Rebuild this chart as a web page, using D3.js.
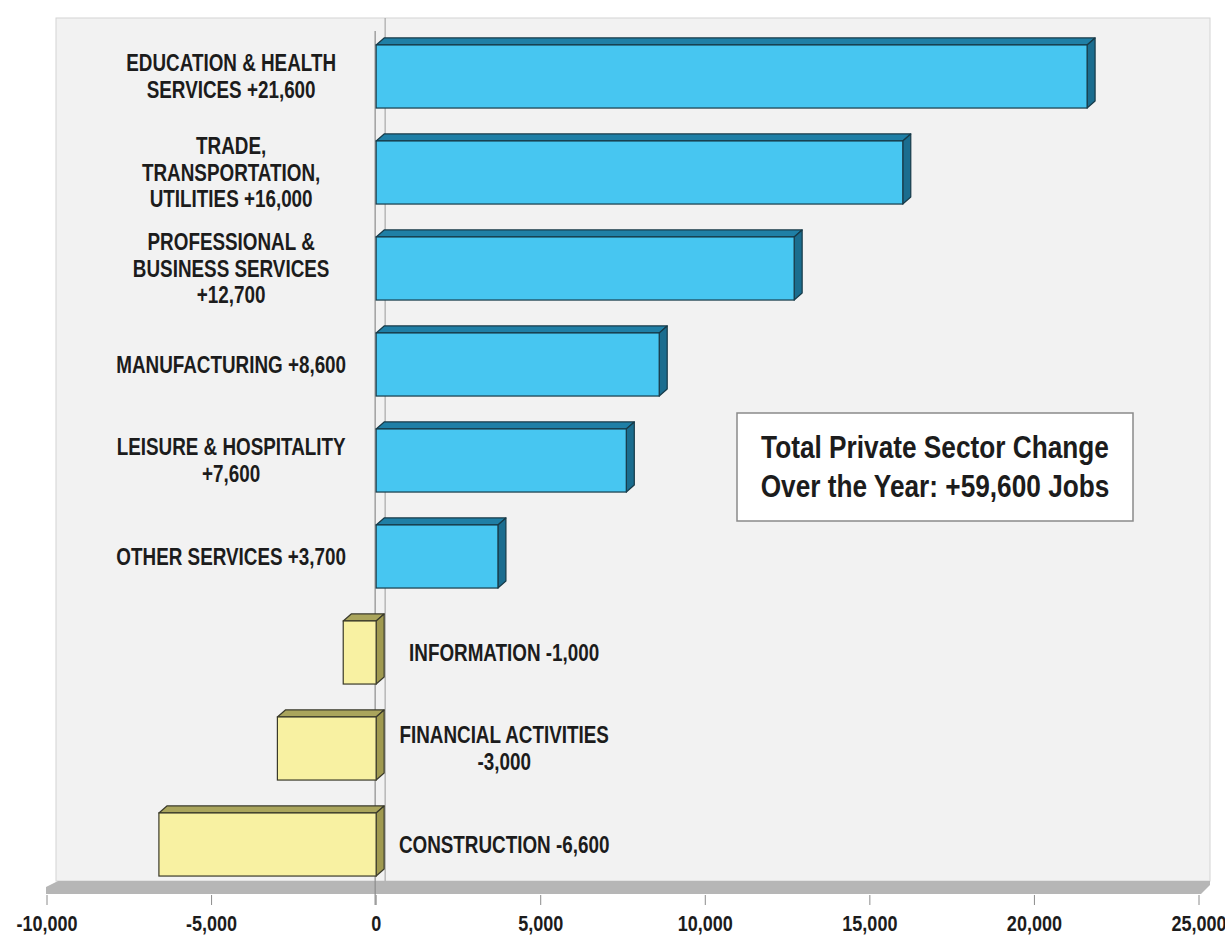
<!DOCTYPE html>
<html>
<head>
<meta charset="utf-8">
<script src="https://cdn.jsdelivr.net/npm/d3@7"></script>
<style>
  body { margin: 0; background: #fff; }
  text { font-family: "Liberation Sans", Arial, sans-serif; font-weight: bold; fill: #1c1c1c; }
</style>
</head>
<body>
<script>
// sectors, top to bottom
var categories = ["Education & Health Services", "Trade, Transportation, Utilities",
  "Professional & Business Services", "Manufacturing", "Leisure & Hospitality",
  "Other Services", "Information", "Financial Activities", "Construction"];
var values = [21600, 16000, 12700, 8600, 7600, 3700, -1000, -3000, -6600];
var labelLines = [
  ["EDUCATION & HEALTH", "SERVICES  +21,600"],
  ["TRADE,", "TRANSPORTATION,", "UTILITIES +16,000"],
  ["PROFESSIONAL &", "BUSINESS SERVICES", "+12,700"],
  ["MANUFACTURING +8,600"],
  ["LEISURE & HOSPITALITY", "+7,600"],
  ["OTHER SERVICES +3,700"],
  ["INFORMATION -1,000"],
  ["FINANCIAL ACTIVITIES", "-3,000"],
  ["CONSTRUCTION -6,600"]
];
var tickValues = [-10000, -5000, 0, 5000, 10000, 15000, 20000, 25000];
var noteLines = ["Total Private Sector Change", "Over the Year: +59,600 Jobs"];

var width = 1225, height = 946;
var depthX = 8, depthY = 7;
var narrow = 0.82; // no narrow font installed, squeeze Liberation Sans instead

var svg = d3.select("body").append("svg")
    .attr("width", width)
    .attr("height", height);

var x = d3.scaleLinear().domain([-10000, 25000]).range([47, 1199]);
var y = d3.scaleBand().domain(categories).range([25, 889])
    .paddingInner(0.27).paddingOuter(0.135);

var wall = {left: 56, right: 1210, top: 18, bottom: 881};

// back wall
svg.append("rect")
    .attr("x", wall.left).attr("y", wall.top)
    .attr("width", wall.right - wall.left).attr("height", wall.bottom - wall.top)
    .attr("fill", "#f2f2f2")
    .attr("stroke", "#d4d4d4");

// floor slab
svg.append("path")
    .attr("d", "M" + (x(-10000) - 1) + ",887 L" + (wall.left + 2) + "," + wall.bottom +
      " L" + wall.right + "," + wall.bottom + " L" + wall.right + ",885 L" + (x(25000) + 2) +
      ",894 L" + (x(-10000) - 1) + ",894 Z")
    .attr("fill", "#b6b6b6");

// zero lines (back wall and front)
svg.append("line")
    .attr("x1", x(0) + 9).attr("x2", x(0) + 9)
    .attr("y1", wall.top).attr("y2", wall.bottom)
    .attr("stroke", "#a8a8a8").attr("stroke-width", 1.2);
svg.append("line")
    .attr("x1", x(0) - 1).attr("x2", x(0) - 1)
    .attr("y1", 31).attr("y2", 905)
    .attr("stroke", "#8c8c8c").attr("stroke-width", 1.2);

// x axis ticks and labels
var fmt = d3.format(",");
var axis = svg.append("g");
axis.selectAll("line").data(tickValues).enter().append("line")
    .attr("x1", function(d) { return x(d); })
    .attr("x2", function(d) { return x(d); })
    .attr("y1", 895).attr("y2", 905)
    .attr("stroke", "#8c8c8c");
axis.selectAll("text").data(tickValues).enter().append("text")
    .attr("transform", function(d) { return "translate(" + x(d) + ",931) scale(" + narrow + ",1)"; })
    .attr("text-anchor", "middle")
    .attr("font-size", 22)
    .text(function(d) { return fmt(d).replace("\u2212", "-"); });

// 3d bars
var bars = svg.append("g").selectAll("g")
    .data(categories.map(function(c, i) { return {cat: c, value: values[i]}; }))
    .enter().append("g");

function barColors(d) {
  return d.value >= 0
    ? {front: "#47c6f1", top: "#1f7fa6", side: "#1b6d8f", edge: "#173a48"}
    : {front: "#f8f1a2", top: "#aaa55c", side: "#a09a50", edge: "#3a3a2a"};
}

bars.each(function(d) {
  var g = d3.select(this), c = barColors(d);
  var x0 = x(Math.min(0, d.value)), x1 = x(Math.max(0, d.value));
  var yt = y(d.cat), yb = yt + y.bandwidth();
  // top face
  g.append("path")
      .attr("d", "M" + x0 + "," + (yt + depthY) + " L" + (x0 + depthX) + "," + yt +
        " L" + (x1 + depthX) + "," + yt + " L" + x1 + "," + (yt + depthY) + " Z")
      .attr("fill", c.top).attr("stroke", c.edge).attr("stroke-width", 1.2)
      .attr("stroke-linejoin", "round");
  // side face
  g.append("path")
      .attr("d", "M" + x1 + "," + (yt + depthY) + " L" + (x1 + depthX) + "," + yt +
        " L" + (x1 + depthX) + "," + (yb - depthY) + " L" + x1 + "," + yb + " Z")
      .attr("fill", c.side).attr("stroke", c.edge).attr("stroke-width", 1.2)
      .attr("stroke-linejoin", "round");
  // front face
  g.append("rect")
      .attr("x", x0).attr("y", yt + depthY)
      .attr("width", x1 - x0).attr("height", y.bandwidth() - depthY)
      .attr("fill", c.front).attr("stroke", c.edge).attr("stroke-width", 1.2);
});

// category labels
var lineH = 27;
svg.append("g").selectAll("text")
    .data(categories.map(function(c, i) { return {cat: c, value: values[i], lines: labelLines[i]}; }))
    .enter().append("text")
    .attr("text-anchor", "middle")
    .attr("font-size", 23)
    .attr("transform", function(d) {
      var cx = d.value >= 0 ? x(0) - 145 : x(0) + 128;
      var cy = y(d.cat) + (y.bandwidth() + depthY) / 2;
      return "translate(" + cx + "," + cy + ") scale(" + narrow + ",1)";
    })
    .each(function(d) {
      var t = d3.select(this);
      var n = d.lines.length;
      d.lines.forEach(function(line, k) {
        t.append("tspan")
            .attr("x", 0)
            .attr("y", (k - (n - 1) / 2) * lineH + 8)
            .text(line);
      });
    });

// annotation box
var note = svg.append("g");
note.append("rect")
    .attr("x", 737).attr("y", 413)
    .attr("width", 396).attr("height", 108)
    .attr("fill", "#fff").attr("stroke", "#8a8a8a").attr("stroke-width", 1.5);
note.selectAll("text").data(noteLines).enter().append("text")
    .attr("transform", function(d, i) { return "translate(935," + (458 + i * 39) + ") scale(" + narrow + ",1)"; })
    .attr("text-anchor", "middle")
    .attr("font-size", 32)
    .text(function(d) { return d; });
</script>
</body>
</html>
